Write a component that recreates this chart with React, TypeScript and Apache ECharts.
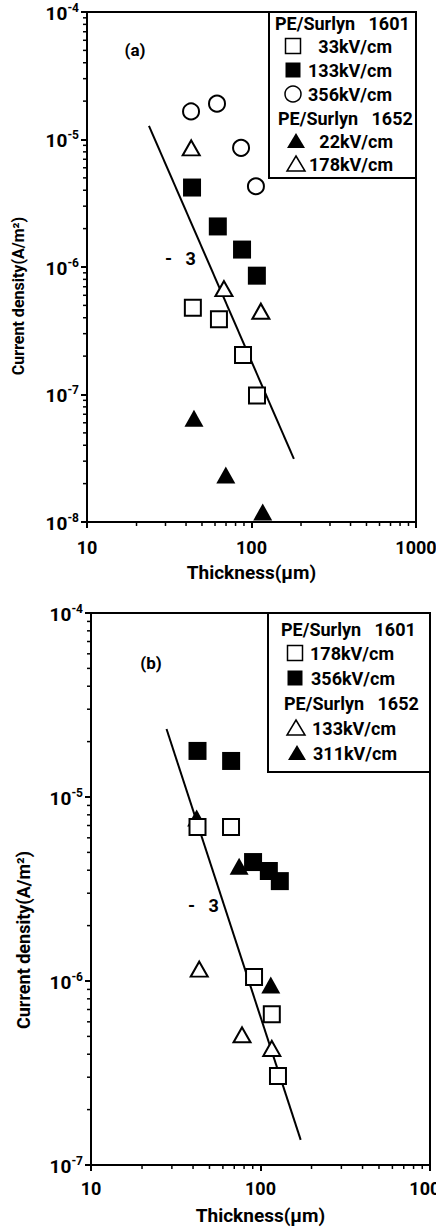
import React, { useEffect, useRef } from "react";
import * as echarts from "echarts";

const FONT = 'Roboto, "Liberation Sans", sans-serif';

// ---------- Panel (a) : PE/Surlyn 1601 ----------
const a1601_33 = [[44, 4.8e-7], [63.4, 3.9e-7], [88.8, 2.04e-7], [108, 9.8e-8]];
const a1601_133 = [[43.5, 4.2e-6], [62.4, 2.08e-6], [87.6, 1.37e-6], [107.8, 8.55e-7]];
const a1601_356 = [[42.9, 1.66e-5], [61.7, 1.91e-5], [86.4, 8.6e-6], [106.4, 4.3e-6]];
// Panel (a) : PE/Surlyn 1652
const a1652_22 = [[44.7, 6.5e-8], [69.8, 2.34e-8], [117, 1.2e-8]];
const a1652_178 = [[43, 8.6e-6], [68, 6.76e-7], [114, 4.5e-7]];
const aFit = [[23.8, 1.28e-5], [181, 3.13e-8]];

// ---------- Panel (b) : PE/Surlyn 1601 ----------
const b1601_178 = [[42.5, 6.87e-6], [67, 6.87e-6], [91.6, 1.05e-6], [116.6, 6.6e-7], [126.8, 3.05e-7]];
const b1601_356 = [[42.5, 1.78e-5], [67.1, 1.57e-5], [90.4, 4.43e-6], [112, 3.96e-6], [130, 3.49e-6]];
// Panel (b) : PE/Surlyn 1652
const b1652_133 = [[43.5, 1.16e-6], [77.8, 5.1e-7], [116.6, 4.3e-7]];
const b1652_311 = [[42, 7.7e-6], [74.8, 4.2e-6], [115, 9.5e-7]];
const bFit = [[27.9, 2.34e-5], [172.6, 1.37e-7]];

// ---------- Axes ----------
const xRange = [10, 1000];
const yRangeA = [1e-8, 1e-4];
const yRangeB = [1e-7, 1e-4];
const xDecades = [10, 100];
const yDecadesA = [1e-8, 1e-7, 1e-6, 1e-5];
const yDecadesB = [1e-7, 1e-6, 1e-5];
const minorMultipliers = [2, 3, 4, 5, 6, 7, 8, 9];
const xTitle = "Thickness(μm)";
const yTitle = "Current density(A/m²)";

const NB = "\u00a0";

const minorOf = (decades: number[]) => {
  const out: number[] = [];
  decades.forEach((d) => minorMultipliers.forEach((m) => out.push(+(d * m).toPrecision(3))));
  return out;
};

const TXT = { fontFamily: FONT, fontWeight: "bold" as const, color: "#000" };

function scatter(name: string, data: number[][], symbol: string, filled: boolean, gi: number, size: any) {
  return {
    type: "scatter",
    name,
    xAxisIndex: gi,
    yAxisIndex: gi,
    data,
    symbol,
    symbolSize: size,
    itemStyle: filled
      ? { color: "#000", borderColor: "#000", borderWidth: 0, opacity: 1 }
      : { color: "#fff", borderColor: "#000", borderWidth: 2, opacity: 1 },
    z: 4,
  };
}

function fitLine(data: number[][], gi: number) {
  return {
    type: "line",
    xAxisIndex: gi,
    yAxisIndex: gi,
    data,
    showSymbol: false,
    symbol: "none",
    lineStyle: { color: "#000", width: 2 },
    z: 3,
  };
}

function yMinor(values: number[], gi: number) {
  return {
    type: "custom",
    xAxisIndex: gi,
    yAxisIndex: gi,
    silent: true,
    clip: false,
    data: values.map((v) => [xRange[0], v]),
    renderItem: (_p: any, api: any) => {
      const p = api.coord([api.value(0), api.value(1)]);
      return {
        type: "line",
        shape: { x1: p[0] - 4, y1: p[1], x2: p[0], y2: p[1] },
        style: { stroke: "#000", lineWidth: 1.5 },
      };
    },
    z: 2,
  };
}

function xMinor(values: number[], gi: number, ymin: number) {
  return {
    type: "custom",
    xAxisIndex: gi,
    yAxisIndex: gi,
    silent: true,
    clip: false,
    data: values.map((v) => [v, ymin]),
    renderItem: (_p: any, api: any) => {
      const p = api.coord([api.value(0), api.value(1)]);
      return {
        type: "line",
        shape: { x1: p[0], y1: p[1], x2: p[0], y2: p[1] + 4 },
        style: { stroke: "#000", lineWidth: 1.5 },
      };
    },
    z: 2,
  };
}

function xAxis(gi: number, margin: number, nameGap: number) {
  return {
    type: "log",
    logBase: 10,
    gridIndex: gi,
    min: xRange[0],
    max: xRange[1],
    axisLine: { show: true, lineStyle: { color: "#000", width: 2 } },
    axisTick: { show: true, length: 6, lineStyle: { color: "#000", width: 2 } },
    splitLine: { show: false },
    axisLabel: {
      ...TXT,
      fontSize: 18,
      margin,
      formatter: (v: number) => String(Math.round(v)),
    },
    name: xTitle,
    nameLocation: "middle",
    nameGap,
    nameTextStyle: { ...TXT, fontSize: 19 },
  };
}

function yAxis(gi: number, range: number[]) {
  return {
    type: "log",
    logBase: 10,
    gridIndex: gi,
    min: range[0],
    max: range[1],
    axisLine: { show: true, lineStyle: { color: "#000", width: 2 } },
    axisTick: { show: true, length: 6, lineStyle: { color: "#000", width: 2 } },
    splitLine: { show: false },
    axisLabel: {
      margin: 8,
      formatter: (v: number) => `{b|10}{s|${Math.round(Math.log10(v))}}`,
      rich: {
        b: { ...TXT, fontSize: 19, lineHeight: 21, verticalAlign: "bottom" },
        s: { ...TXT, fontSize: 12, lineHeight: 21, verticalAlign: "top" },
      },
    },
  };
}

function yName(x: number, y: number, size: number) {
  return {
    type: "text",
    x,
    y,
    rotation: Math.PI / 2,
    z: 20,
    style: { text: yTitle, fontFamily: FONT, fontWeight: "bold", fontSize: size, fill: "#000", align: "center", verticalAlign: "middle" },
  };
}

// legend drawing helpers (graphic)
function lgText(x: number, y: number, text: string, align: string) {
  return {
    type: "text",
    x,
    y,
    z: 20,
    style: { text, fontFamily: FONT, fontWeight: "bold", fontSize: 18, fill: "#000", align, verticalAlign: "middle" },
  };
}
function lgMarker(kind: string, filled: boolean, cx: number, cy: number) {
  const style = { fill: filled ? "#000" : "#fff", stroke: "#000", lineWidth: filled ? 0 : 1.5 };
  if (kind === "rect") return { type: "rect", z: 20, shape: { x: cx - 7.5, y: cy - 7.5, width: 15, height: 15 }, style };
  if (kind === "circle") return { type: "circle", z: 20, shape: { cx, cy, r: 8 }, style };
  return {
    type: "polygon",
    z: 20,
    shape: { points: [[cx, cy - 8], [cx + 9, cy + 7], [cx - 9, cy + 7]] },
    style,
  };
}

export default function App() {
  const ref = useRef<HTMLDivElement>(null);
  useEffect(() => {
    if (!ref.current) return;
    const chart = echarts.init(ref.current, undefined, { renderer: "svg" });
    const option: any = {
      animation: false,
      backgroundColor: "#fff",
      grid: [
        { left: 87, top: 12, width: 329, height: 510, show: true, borderColor: "#000", borderWidth: 2, backgroundColor: "transparent", containLabel: false, outerBoundsMode: "none" },
        { left: 91, top: 613, width: 339, height: 552, show: true, borderColor: "#000", borderWidth: 2, backgroundColor: "transparent", containLabel: false, outerBoundsMode: "none" },
      ],
      xAxis: [xAxis(0, 16, 41), xAxis(1, 14, 41)],
      yAxis: [yAxis(0, yRangeA), yAxis(1, yRangeB)],
      series: [
        yMinor(minorOf(yDecadesA), 0),
        xMinor(minorOf(xDecades), 0, yRangeA[0]),
        yMinor(minorOf(yDecadesB), 1),
        xMinor(minorOf(xDecades), 1, yRangeB[0]),
        fitLine(aFit, 0),
        scatter("1601 33kV/cm", a1601_33, "rect", false, 0, 16),
        scatter("1601 133kV/cm", a1601_133, "rect", true, 0, 18),
        scatter("1601 356kV/cm", a1601_356, "circle", false, 0, 16),
        scatter("1652 22kV/cm", a1652_22, "triangle", true, 0, [19, 17]),
        scatter("1652 178kV/cm", a1652_178, "triangle", false, 0, [17, 15]),
        fitLine(bFit, 1),
        scatter("1652 311kV/cm (b)", b1652_311, "triangle", true, 1, [19, 17]),
        scatter("1601 178kV/cm (b)", b1601_178, "rect", false, 1, 16),
        scatter("1601 356kV/cm (b)", b1601_356, "rect", true, 1, 18),
        scatter("1652 133kV/cm (b)", b1652_133, "triangle", false, 1, [17, 15]),
      ],
      graphic: [
        // y-axis titles
        yName(18, 296, 16),
        yName(23, 940, 18),
        // panel labels
        { type: "text", x: 135, y: 50, z: 20, style: { text: "(a)", fontFamily: FONT, fontWeight: "bold", fontSize: 17, fill: "#000", align: "center", verticalAlign: "middle" } },
        { type: "text", x: 151, y: 663, z: 20, style: { text: "(b)", fontFamily: FONT, fontWeight: "bold", fontSize: 17, fill: "#000", align: "center", verticalAlign: "middle" } },
        // slope annotations
        { type: "text", x: 165, y: 258, z: 20, style: { text: `-${NB}${NB}${NB}3`, fontFamily: FONT, fontWeight: "bold", fontSize: 18, fill: "#000", align: "left", verticalAlign: "middle" } },
        { type: "text", x: 188, y: 905, z: 20, style: { text: `-${NB}${NB}${NB}3`, fontFamily: FONT, fontWeight: "bold", fontSize: 18, fill: "#000", align: "left", verticalAlign: "middle" } },
        // legend (a)
        { type: "rect", z: 19, shape: { x: 269, y: 12, width: 147, height: 166 }, style: { fill: "#fff", stroke: "#000", lineWidth: 2 } },
        lgText(275, 23, `PE/Surlyn${NB}${NB}${NB}1601`, "left"),
        lgMarker("rect", false, 293, 46), lgText(392, 46, "33kV/cm", "right"),
        lgMarker("rect", true, 293, 70), lgText(392, 70, "133kV/cm", "right"),
        lgMarker("circle", false, 293, 94), lgText(392, 94, "356kV/cm", "right"),
        lgText(278, 118, `PE/Surlyn${NB}${NB}${NB}1652`, "left"),
        lgMarker("tri", true, 296, 141), lgText(393, 141, "22kV/cm", "right"),
        lgMarker("tri", false, 296, 164), lgText(393, 164, "178kV/cm", "right"),
        // legend (b)
        { type: "rect", z: 19, shape: { x: 268, y: 613, width: 162, height: 159 }, style: { fill: "#fff", stroke: "#000", lineWidth: 2 } },
        lgText(281, 629, `PE/Surlyn${NB}${NB}${NB}1601`, "left"),
        lgMarker("rect", false, 295, 653), lgText(394, 653, "178kV/cm", "right"),
        lgMarker("rect", true, 295, 678), lgText(395, 678, "356kV/cm", "right"),
        lgText(284, 703, `PE/Surlyn${NB}${NB}${NB}1652`, "left"),
        lgMarker("tri", false, 296, 728), lgText(396, 728, "133kV/cm", "right"),
        lgMarker("tri", true, 297, 753), lgText(397, 753, "311kV/cm", "right"),
      ],
    };
    chart.setOption(option);
    return () => chart.dispose();
  }, []);
  return <div ref={ref} style={{ position: "absolute", left: 0, top: 0, width: 436, height: 1228 }} />;
}
